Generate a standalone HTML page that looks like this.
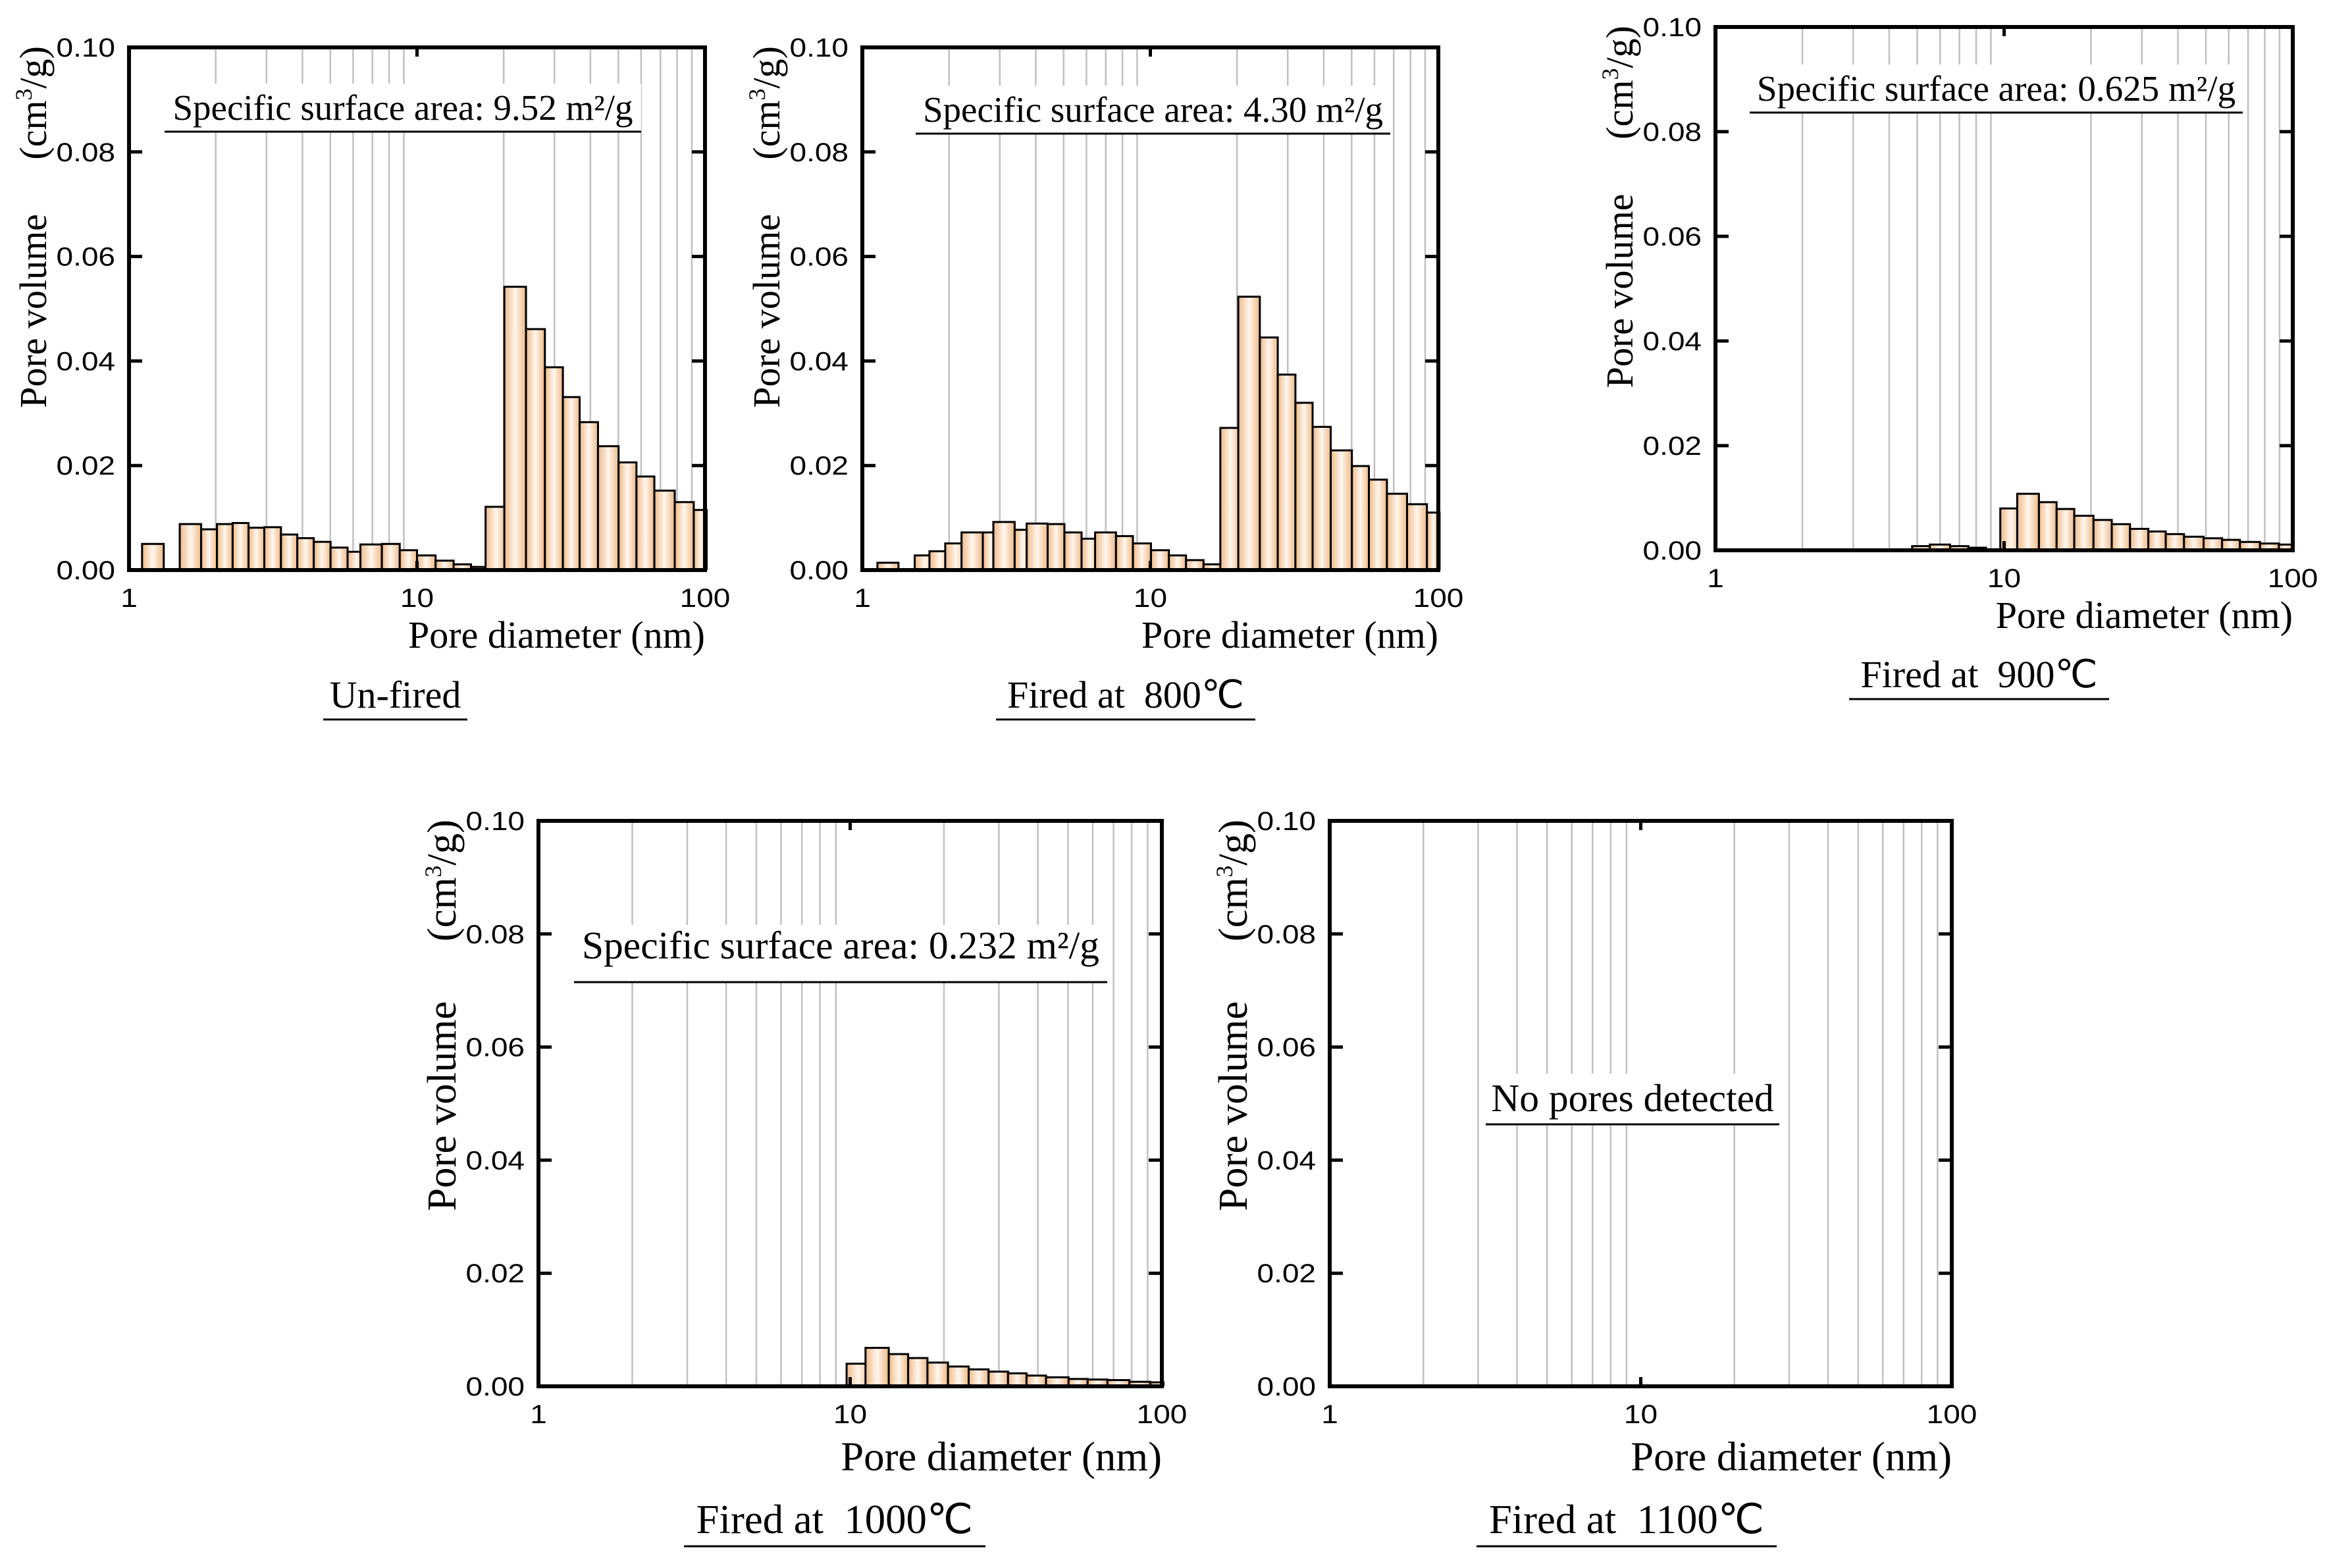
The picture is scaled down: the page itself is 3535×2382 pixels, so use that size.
<!DOCTYPE html>
<html><head><meta charset="utf-8">
<style>
html,body{margin:0;padding:0;background:#fff;}
svg{display:block;}
.ser{font-family:"Liberation Serif","Times New Roman",serif;fill:#000;}
.san{font-family:"Liberation Sans",Arial,sans-serif;fill:#000;}
</style></head>
<body>
<svg id="fig" width="3535" height="2382" viewBox="0 0 3535 2382" xmlns="http://www.w3.org/2000/svg">
<defs>
<linearGradient id="barGrad" x1="0" y1="0" x2="1" y2="0">
<stop offset="0" stop-color="#eeb985"/>
<stop offset="0.5" stop-color="#fff6ee"/>
<stop offset="1" stop-color="#eeb985"/>
</linearGradient>
</defs>
</svg>
<script>
// ---- data (bin lower edge nm, bin upper edge nm, pore volume cm3/g) ----
const unfiredLo = [1.11,1.50,1.78,2.02,2.29,2.60,2.95,3.37,3.84,4.38,5.01,5.74,6.36,7.55,8.71,10.0,11.6,13.4,15.4,17.3,20.1,23.9,27.8,32.1,36.7,42.5,50.1,57.8,66.7,78.5,91.4];
const unfiredHi = [1.32,1.78,2.02,2.29,2.60,2.95,3.37,3.84,4.38,5.01,5.74,6.59,7.55,8.71,10.0,11.6,13.4,15.4,17.7,20.5,23.9,27.8,32.1,36.7,42.5,50.1,57.8,66.7,78.5,91.4,102];
const unfiredVol = [0.0050,0.0088,0.0078,0.0088,0.0090,0.0081,0.0082,0.0068,0.0061,0.0054,0.0043,0.0035,0.0049,0.0050,0.0038,0.0028,0.0018,0.0011,0.0006,0.0121,0.0542,0.0461,0.0388,0.0331,0.0283,0.0237,0.0206,0.0179,0.0152,0.0130,0.0115];

const f800Lo = [1.128,1.52,1.71,1.94,2.21,2.62,2.85,3.38,3.72,4.40,5.03,5.77,6.43,7.60,8.70,10.05,11.6,13.3,15.3,17.5,20.2,24.0,27.7,31.9,36.6,42.3,50.1,57.4,66.3,77.9,91.3];
const f800Hi = [1.335,1.79,2.03,2.30,2.62,2.97,3.38,3.86,4.40,5.03,5.77,6.62,7.60,8.70,10.05,11.6,13.3,15.3,17.7,20.6,24.0,27.7,31.9,36.6,42.3,50.1,57.4,66.3,77.9,91.3,101];
const f800Vol = [0.0014,0.0028,0.0036,0.0051,0.0072,0.0072,0.0092,0.0077,0.0089,0.0088,0.0072,0.0060,0.0072,0.0065,0.0051,0.0038,0.0028,0.0019,0.0011,0.0272,0.0523,0.0445,0.0374,0.0320,0.0274,0.0229,0.0199,0.0173,0.0146,0.0126,0.0110];

const f900Lo = [4.80,5.53,6.50,7.52,8.66,9.7,11.1,13.2,15.2,17.5,20.4,23.6,27.3,31.6,36.3,42.0,49.1,56.9,65.6,77.0,89.5];
const f900Hi = [5.69,6.50,7.52,8.66,9.8,11.5,13.2,15.2,17.5,20.4,23.6,27.3,31.6,36.3,42.0,49.1,56.9,65.6,77.0,89.5,100];
const f900Vol = [0.0008,0.0011,0.0008,0.0005,0.0002,0.0080,0.0108,0.0092,0.0079,0.0066,0.0058,0.0050,0.0041,0.0036,0.0031,0.0026,0.0023,0.0020,0.0016,0.0013,0.0011];

const f1000Lo = [9.74,11.2,13.3,15.35,17.7,20.6,24.0,27.8,32.1,36.8,42.5,50.2,57.8,66.9,78.7,91.8];
const f1000Hi = [11.57,13.3,15.35,17.7,20.6,24.0,27.8,32.1,36.8,42.5,50.2,57.8,66.9,78.7,91.8,102];
const f1000Vol = [0.0040,0.0068,0.0057,0.0050,0.0042,0.0035,0.0030,0.0026,0.0023,0.0019,0.0016,0.0013,0.0012,0.0011,0.0008,0.0007];

const f1100Lo = [];
const f1100Hi = [];
const f1100Vol = [];

const yTicks = [0, 0.02, 0.04, 0.06, 0.08, 0.10];
const yTickLabels = ["0.00","0.02","0.04","0.06","0.08","0.10"];
const xTicks = [1, 10, 100];
const xTickLabels = ["1","10","100"];
const gridVals = [2,3,4,5,6,7,8,9,20,30,40,50,60,70,80,90];

const NS = "http://www.w3.org/2000/svg";
const svg = document.getElementById('fig');
function mk(tag, attrs, parent){
  const e = document.createElementNS(NS, tag);
  for (const k in attrs) e.setAttribute(k, attrs[k]);
  (parent||svg).appendChild(e);
  return e;
}

const panels = [
  {id:'unfired', L:196, R:1071, T:72, B:866, lo:unfiredLo, hi:unfiredHi, v:unfiredVol,
   ann:'Specific surface area: 9.52 m²/g', annX1:250, annX2:974, annBase:182, annLine:200, annTop:127,
   cap:'Un-fired', capX1:491, capX2:710, capBase:1075, capLine:1093},
  {id:'fired-800', L:1310, R:2185, T:72, B:866, lo:f800Lo, hi:f800Hi, v:f800Vol,
   ann:'Specific surface area: 4.30 m²/g', annX1:1391, annX2:2112, annBase:185, annLine:203, annTop:130,
   cap:'Fired at  800℃', capX1:1513, capX2:1907, capBase:1075, capLine:1093},
  {id:'fired-900', L:2606, R:3483, T:41, B:836, lo:f900Lo, hi:f900Hi, v:f900Vol,
   ann:'Specific surface area: 0.625 m²/g', annX1:2658, annX2:3407, annBase:153, annLine:171, annTop:98,
   cap:'Fired at  900℃', capX1:2809, capX2:3204, capBase:1044, capLine:1062},
  {id:'fired-1000', L:818, R:1765, T:1247, B:2106, lo:f1000Lo, hi:f1000Hi, v:f1000Vol,
   ann:'Specific surface area: 0.232 m²/g', annX1:872, annX2:1682, annBase:1456, annLine:1492, annTop:1405,
   cap:'Fired at  1000℃', capX1:1039, capX2:1497, capBase:2329, capLine:2349},
  {id:'fired-1100', L:2020, R:2965, T:1247, B:2106, lo:f1100Lo, hi:f1100Hi, v:f1100Vol,
   ann:'No pores detected', annX1:2257, annX2:2703, annBase:1688, annLine:1708, annTop:1631,
   cap:'Fired at  1100℃', capX1:2243, capX2:2699, capBase:2329, capLine:2349}
];

panels.forEach(p => {
  const g = mk('g', {});
  
  
  const xs = d => p.L + (Math.log10(d) / 2) * (p.R - p.L);
  const ys = v => p.B - (v / 0.1) * (p.B - p.T);
  const h = p.B - p.T;
  const k = h / 794;
  const fs = 58 * k;

  gridVals.forEach(gv => {
    const ln = mk('line', {x1:xs(gv), x2:xs(gv), y1:p.T, y2:p.B, stroke:'#c0c0c0', 'stroke-width':2.5}, g);
    
    
  });

  const box = mk('rect', {x:p.annX1, y:p.annTop, width:p.annX2-p.annX1, height:p.annLine-p.annTop, fill:'#fff'}, g);
  
  
  const at = mk('text', {x:(p.annX1+p.annX2)/2, y:p.annBase, 'text-anchor':'middle', class:'ser', 'font-size':55*k}, g);
  at.textContent = p.ann;
  
  
  const al = mk('line', {x1:p.annX1, x2:p.annX2, y1:p.annLine, y2:p.annLine, stroke:'#000', 'stroke-width':3}, g);
  
  

  const cp = mk('clipPath', {id:'clip-'+p.id}, g);
  mk('rect', {x:p.L, y:p.T, width:p.R-p.L+4, height:p.B-p.T}, cp);
  const bg = mk('g', {'clip-path':'url(#clip-'+p.id+')'}, g);
  for (let i = 0; i < p.v.length; i++) {
    const x1 = xs(p.lo[i]), x2 = xs(p.hi[i]), y = ys(p.v[i]);
    const b = mk('rect', {x:x1, y:y, width:x2-x1, height:p.B-y, fill:'url(#barGrad)', stroke:'#000', 'stroke-width':3}, bg);
    
    
  }

  yTicks.forEach((t, i) => {
    const y = ys(t);
    mk('line', {x1:p.L, x2:p.L+20, y1:y, y2:y, stroke:'#000', 'stroke-width':5}, g);
    mk('line', {x1:p.R-20, x2:p.R, y1:y, y2:y, stroke:'#000', 'stroke-width':5}, g);
    const tl = mk('text', {transform:'translate('+(p.L-21)+','+(y+14)+') scale(1.15,1)', 'text-anchor':'end', class:'san', 'font-size':40}, g);
    tl.textContent = yTickLabels[i];
    
    
  });
  mk('line', {x1:xs(10), x2:xs(10), y1:p.T, y2:p.T+14, stroke:'#000', 'stroke-width':5}, g);
  mk('line', {x1:xs(10), x2:xs(10), y1:p.B-14, y2:p.B, stroke:'#000', 'stroke-width':5}, g);
  xTicks.forEach((t, i) => {
    const xl = mk('text', {transform:'translate('+xs(t)+','+(p.B+56)+') scale(1.15,1)', 'text-anchor':'middle', class:'san', 'font-size':40}, g);
    xl.textContent = xTickLabels[i];
    
    
  });

  const fr = mk('rect', {x:p.L, y:p.T, width:p.R-p.L, height:p.B-p.T, fill:'none', stroke:'#000', 'stroke-width':6}, g);
  
  

  const xt = mk('text', {x:p.R, y:p.B+118*k, 'text-anchor':'end', class:'ser', 'font-size':fs}, g);
  xt.textContent = 'Pore diameter (nm)';
  
  
  const yx = p.L - 126;
  const y1 = mk('text', {transform:'translate('+yx+','+(p.B-0.31*h)+') rotate(-90)', 'text-anchor':'start', class:'ser', 'font-size':fs}, g);
  y1.textContent = 'Pore volume';
  
  
  const y2 = mk('text', {transform:'translate('+yx+','+(p.T-2)+') rotate(-90)', 'text-anchor':'end', class:'ser', 'font-size':fs}, g);
  y2.innerHTML = '(cm<tspan dy="-22" font-size="36">3</tspan><tspan dy="22">/g)</tspan>';
  
  

  const ct = mk('text', {x:(p.capX1+p.capX2)/2, y:p.capBase, 'text-anchor':'middle', class:'ser', 'font-size':fs}, g);
  ct.style.whiteSpace = 'pre';
  ct.textContent = p.cap;
  
  
  const cl = mk('line', {x1:p.capX1, x2:p.capX2, y1:p.capLine, y2:p.capLine, stroke:'#000', 'stroke-width':3}, g);
  
  
});
</script>
</body></html>
